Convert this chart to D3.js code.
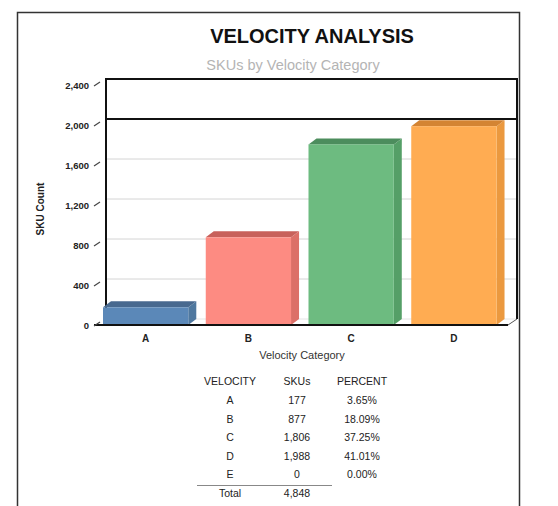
<!DOCTYPE html>
<html>
<head>
<meta charset="utf-8">
<script src="https://cdn.jsdelivr.net/npm/d3@7"></script>
<style>
  html, body { margin: 0; padding: 0; background: #fff; }
  svg { display: block; font-family: "Liberation Sans", Arial, sans-serif; }
</style>
</head>
<body>
<svg id="chart" width="558" height="506"></svg>
<script>
// Velocity categories and SKU counts
const categories = ["A", "B", "C", "D"];
const skuCounts = [177, 877, 1806, 1988];
const tableCategories = ["A", "B", "C", "D", "E"];
const tableCounts = [177, 877, 1806, 1988, 0];
const yTicks = [0, 400, 800, 1200, 1600, 2000, 2400];
const targetLine = 2000;
const barColors = [
  { front: "#5b88b8", top: "#48698f", side: "#4f789f" },
  { front: "#fd8b82", top: "#c8615b", side: "#dc7068" },
  { front: "#6dbb80", top: "#4c8d5d", side: "#559f67" },
  { front: "#ffac52", top: "#d48433", side: "#eb993f" }
];

const svg = d3.select("#chart");

// outer frame
svg.append("path")
  .attr("d", "M17.5,520 V12.5 H519.5 V520")
  .attr("fill", "none").attr("stroke", "#333").attr("stroke-width", 1.5);

// titles
svg.append("text").attr("x", 312).attr("y", 43).attr("text-anchor", "middle")
  .attr("font-size", 20).attr("font-weight", "bold").attr("fill", "#111")
  .text("VELOCITY ANALYSIS");
svg.append("text").attr("x", 293).attr("y", 70).attr("text-anchor", "middle")
  .attr("font-size", 14.5).attr("fill", "#b4b4b4")
  .text("SKUs by Velocity Category");

// 3D plot geometry: front plane and depth offset
const front = { left: 97, right: 508, bottom: 325, top: 85 };
const depth = { dx: 9, dy: -6 };
const barDepth = { dx: 8, dy: -6 };

const y = d3.scaleLinear().domain([0, 2400]).range([front.bottom, front.top]);
const x = d3.scaleBand().domain(categories).range([front.left, front.right]).paddingInner(0).paddingOuter(0);

const backL = front.left + depth.dx, backR = front.right + depth.dx;
const g = svg.append("g");

// back wall gridlines
g.selectAll("line.grid").data(yTicks.filter(t => t > 0 && t < 2400 && t !== targetLine))
  .join("line").attr("class", "grid")
  .attr("x1", backL).attr("x2", backR)
  .attr("y1", d => y(d) + depth.dy).attr("y2", d => y(d) + depth.dy)
  .attr("stroke", "#d4d4d4").attr("stroke-width", 1);
g.append("line")
  .attr("x1", backL).attr("x2", backR)
  .attr("y1", y(0) + depth.dy).attr("y2", y(0) + depth.dy)
  .attr("stroke", "#e4e4e4").attr("stroke-width", 1);

// back wall outline
g.append("path")
  .attr("d", `M${backL},${y(0) + depth.dy} V${y(2400) + depth.dy} H${backR} V${y(0) + depth.dy}`)
  .attr("fill", "none").attr("stroke", "#111").attr("stroke-width", 2);

// target line on the back wall
g.append("line")
  .attr("x1", backL).attr("x2", backR)
  .attr("y1", y(targetLine) + depth.dy).attr("y2", y(targetLine) + depth.dy)
  .attr("stroke", "#111").attr("stroke-width", 2);

// bars
const barOffset = 6;
const bw = x.bandwidth() * 0.83;
const base = y(0);
const bars = g.selectAll("g.bar").data(categories.map((c, i) => ({ c, v: skuCounts[i], col: barColors[i] })))
  .join("g").attr("class", "bar");
bars.append("polygon")
  .attr("points", d => {
    const x0 = x(d.c) + barOffset, yv = y(d.v);
    return [[x0 + bw, yv], [x0 + bw + barDepth.dx, yv + barDepth.dy], [x0 + bw + barDepth.dx, base + barDepth.dy], [x0 + bw, base]].join(" ");
  })
  .attr("fill", d => d.col.side);
bars.append("polygon")
  .attr("points", d => {
    const x0 = x(d.c) + barOffset, yv = y(d.v);
    return [[x0, yv], [x0 + barDepth.dx, yv + barDepth.dy], [x0 + bw + barDepth.dx, yv + barDepth.dy], [x0 + bw, yv]].join(" ");
  })
  .attr("fill", d => d.col.top);
bars.append("rect")
  .attr("x", d => x(d.c) + barOffset).attr("y", d => y(d.v))
  .attr("width", bw).attr("height", d => base - y(d.v))
  .attr("fill", d => d.col.front);

// floor front edge and corner ticks
g.append("line").attr("x1", front.left - 3).attr("x2", front.right)
  .attr("y1", base).attr("y2", base).attr("stroke", "#111").attr("stroke-width", 2);
g.append("line").attr("x1", front.right).attr("y1", base)
  .attr("x2", backR).attr("y2", base + depth.dy).attr("stroke", "#555").attr("stroke-width", 1);

// y axis ticks and labels
const yt = g.selectAll("g.ytick").data(yTicks).join("g").attr("class", "ytick");
yt.append("line")
  .attr("x1", front.left - 3).attr("y1", d => y(d) + 1)
  .attr("x2", front.left + 3).attr("y2", d => y(d) - 3)
  .attr("stroke", "#444").attr("stroke-width", 1.2);
yt.append("text")
  .attr("x", 89).attr("y", d => y(d) + 3.5).attr("text-anchor", "end")
  .attr("font-size", 9.5).attr("font-weight", "bold").attr("fill", "#222")
  .text(d => d3.format(",")(d));

// x category labels
g.selectAll("text.xcat").data(categories).join("text").attr("class", "xcat")
  .attr("x", d => x(d) + barOffset + bw / 2).attr("y", 342)
  .attr("text-anchor", "middle").attr("font-size", 10).attr("font-weight", "bold").attr("fill", "#222")
  .text(d => d);

// axis titles
svg.append("text").attr("x", 302).attr("y", 359).attr("text-anchor", "middle")
  .attr("font-size", 11).attr("fill", "#333").text("Velocity Category");
svg.append("text").attr("transform", "translate(44,209) rotate(-90)").attr("text-anchor", "middle")
  .attr("font-size", 10).attr("font-weight", "bold").attr("fill", "#222").text("SKU Count");

// summary table
const total = d3.sum(tableCounts);
const pct = d3.format(".2%");
const cols = { cat: 230, cnt: 297, pct: 362 };
const tbl = svg.append("g").attr("font-size", 10.5).attr("fill", "#222").attr("text-anchor", "middle");
const header = tbl.append("g");
header.append("text").attr("x", cols.cat).attr("y", 385).text("VELOCITY");
header.append("text").attr("x", cols.cnt).attr("y", 385).text("SKUs");
header.append("text").attr("x", cols.pct).attr("y", 385).text("PERCENT");
const rowY = d3.scalePoint().domain(tableCategories).range([404, 478]);
const rows = tbl.selectAll("g.row").data(tableCategories.map((c, i) => ({ c, n: tableCounts[i] })))
  .join("g").attr("class", "row");
rows.append("text").attr("x", cols.cat).attr("y", d => rowY(d.c)).text(d => d.c);
rows.append("text").attr("x", cols.cnt).attr("y", d => rowY(d.c)).text(d => d3.format(",")(d.n));
rows.append("text").attr("x", cols.pct).attr("y", d => rowY(d.c)).text(d => pct(d.n / total));
tbl.append("line").attr("x1", 197).attr("x2", 332).attr("y1", 485.5).attr("y2", 485.5)
  .attr("stroke", "#888").attr("stroke-width", 1);
tbl.append("text").attr("x", cols.cat).attr("y", 497).text("Total");
tbl.append("text").attr("x", cols.cnt).attr("y", 497).text(d3.format(",")(total));
</script>
</body>
</html>
